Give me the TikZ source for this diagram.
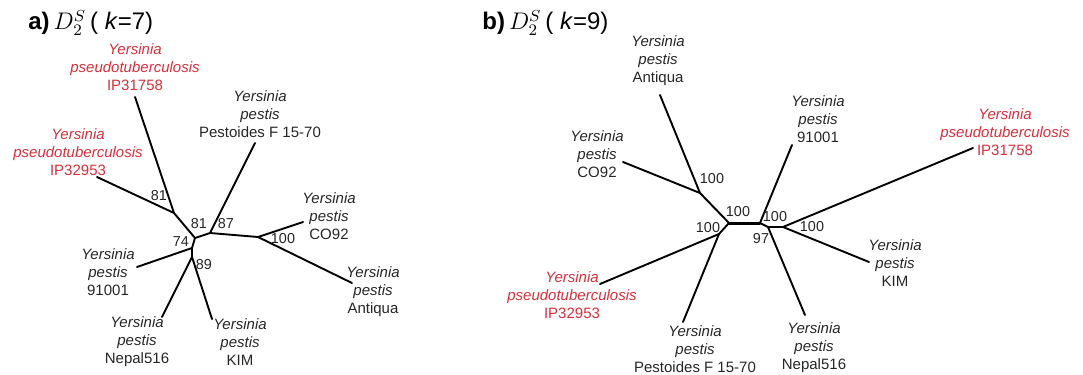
\documentclass[tikz,border=0pt]{standalone}
\usepackage{fontspec}
\setmainfont{Liberation Sans}
\definecolor{ptred}{RGB}{214,48,58}
\definecolor{txtgray}{RGB}{38,38,38}
\newcommand{\ypestis}[1]{\textit{Yersinia}\\\textit{pestis}\\#1}
\newcommand{\ypseudo}[1]{\textit{Yersinia}\\\textit{pseudotuberculosis}\\#1}
\tikzset{
  leaf/.style={align=center,inner sep=0pt,text=txtgray,font=\fontsize{7.5}{9}\selectfont},
  pseudo/.style={leaf,text=ptred},
  boot/.style={inner sep=0pt,text=txtgray,font=\fontsize{7.2}{8}\selectfont},
  branch/.style={line width=0.95pt,line cap=round},
  panel/.style={anchor=base west,inner sep=0pt,font=\fontsize{12}{14}\selectfont}
}
\begin{document}
\begin{tikzpicture}[x=0.5pt,y=-0.5pt]
\useasboundingbox (0,0) rectangle (1083,375);
% a) k=7
\node[panel] (titleA) at (28,30) {\textbf{a)}\,$D_2^S$\,( \textit{k}=7)};
\coordinate (a1) at (174,213);
\coordinate (a2) at (195,238);
\coordinate (a3) at (210,233);
\coordinate (a4) at (258,237);
\coordinate (a5) at (192,248);
\coordinate (a6) at (192,257);
\coordinate (aIP31758) at (135,97);
\coordinate (aIP32953) at (97,177);
\coordinate (aPest) at (255,143);
\coordinate (aCO92) at (303,222);
\coordinate (aAntiqua) at (352,283);
\coordinate (a91001) at (137,267);
\coordinate (aNepal) at (162,317);
\coordinate (aKIM) at (212,319);
\draw[branch] (a1) -- (aIP31758);
\draw[branch] (a1) -- (aIP32953);
\draw[branch] (a1) -- (a2) -- (a3) -- (aPest);
\draw[branch] (a3) -- (a4) -- (aCO92);
\draw[branch] (a4) -- (aAntiqua);
\draw[branch] (a2) -- (a5) -- (a91001);
\draw[branch] (a5) -- (a6) -- (aNepal);
\draw[branch] (a6) -- (aKIM);
\node[pseudo] (labIP31758a) at (135,67) {\ypseudo{IP31758}};
\node[pseudo] (labIP32953a) at (78,152) {\ypseudo{IP32953}};
\node[leaf] (labPesta) at (260,114) {\ypestis{Pestoides F 15-70}};
\node[leaf] (labCO92a) at (329,216) {\ypestis{CO92}};
\node[leaf] (labAntiquaa) at (373,292) {\ypestis{Antiqua}};
\node[leaf] (lab91001a) at (108,272) {\ypestis{91001}};
\node[leaf] (labNepala) at (137,342) {\ypestis{Nepal516}};
\node[leaf] (labKIMa) at (240,342) {\ypestis{KIM}};
\node[boot] (bsa1) at (159,196) {81};
\node[boot] (bsa2) at (199,224) {81};
\node[boot] (bsa3) at (226,224) {87};
\node[boot] (bsa4) at (283,239) {100};
\node[boot] (bsa5) at (181,242) {74};
\node[boot] (bsa6) at (204,265) {89};
% b) k=9
\node[panel] (titleB) at (482,30) {\textbf{b)}\,$D_2^S$\,( \textit{k}=9)};
\coordinate (b1) at (700,193);
\coordinate (b2) at (729,223);
\coordinate (b3) at (760,223);
\coordinate (b4) at (719,234);
\coordinate (b5) at (768,227);
\coordinate (b6) at (783,227);
\coordinate (bAntiqua) at (660,95);
\coordinate (bCO92) at (623,162);
\coordinate (bIP32953) at (600,284);
\coordinate (bPest) at (683,322);
\coordinate (b91001) at (792,145);
\coordinate (bNepal) at (805,315);
\coordinate (bIP31758) at (973,148);
\coordinate (bKIM) at (869,262);
\draw[branch] (b1) -- (bAntiqua);
\draw[branch] (b1) -- (bCO92);
\draw[branch] (b1) -- (b2);
\draw[branch,line width=1.5pt] (b2) -- (b3);
\draw[branch] (b2) -- (b4) -- (bIP32953);
\draw[branch] (b4) -- (bPest);
\draw[branch] (b3) -- (b91001);
\draw[branch] (b3) -- (b5) -- (bNepal);
\draw[branch] (b5) -- (b6) -- (bIP31758);
\draw[branch] (b6) -- (bKIM);
\node[leaf] (labAntiquab) at (658,61) {\ypestis{Antiqua}};
\node[leaf] (labCO92b) at (597,154) {\ypestis{CO92}};
\node[pseudo] (labIP32953b) at (572,295) {\ypseudo{IP32953}};
\node[leaf] (labPestb) at (695,349) {\ypestis{Pestoides F 15-70}};
\node[leaf] (lab91001b) at (818,119) {\ypestis{91001}};
\node[pseudo] (labIP31758b) at (1005,132) {\ypseudo{IP31758}};
\node[leaf] (labKIMb) at (895,263) {\ypestis{KIM}};
\node[leaf] (labNepalb) at (814,348) {\ypestis{Nepal516}};
\node[boot] (bsb1) at (712,179) {100};
\node[boot] (bsb2) at (738,212) {100};
\node[boot] (bsb3) at (708,228) {100};
\node[boot] (bsb4) at (775,217) {100};
\node[boot] (bsb5) at (761,239) {97};
\node[boot] (bsb6) at (812,227) {100};
\end{tikzpicture}
\end{document}
